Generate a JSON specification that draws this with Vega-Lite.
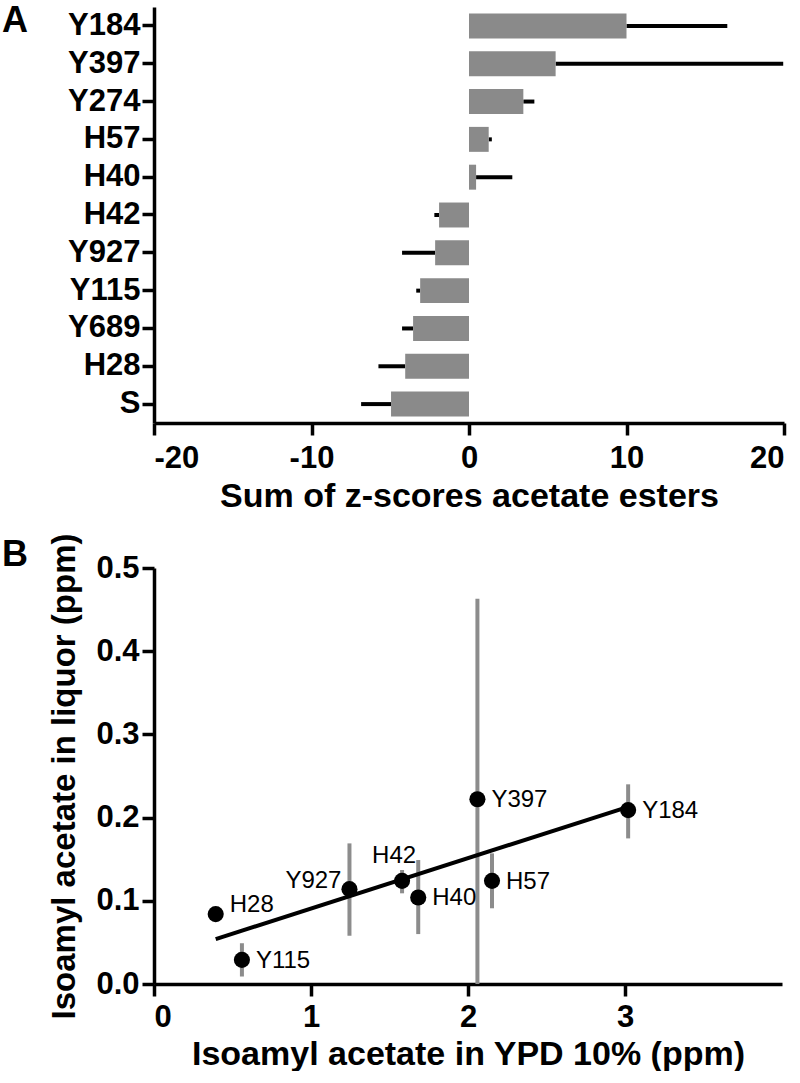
{
  "$schema": "https://vega.github.io/schema/vega-lite/v6.json",
  "background": "white",
  "padding": {"left": 2, "top": 3, "right": 2, "bottom": 0},
  "spacing": 20,
  "config": {
    "font": "Liberation Sans, Arial",
    "view": {"stroke": null},
    "axis": {
      "domainColor": "black", "domainWidth": 3.5, "tickColor": "black", "tickWidth": 3.5, "tickSize": 12,
      "labelColor": "black", "titleColor": "black", "labelFontWeight": "bold", "titleFontWeight": "bold",
      "labelFontSize": 31, "titleFontSize": 34, "grid": false,
      "labelFont": "Liberation Sans, Arial",
      "titleFont": "Liberation Sans, Arial"
    },
    "title": {"fontSize": 36, "fontWeight": "bold", "anchor": "start", "frame": "group", "color": "black", "font": "Liberation Sans, Arial"}
  },
  "vconcat": [
    {
      "width": 630,
      "height": 416,
      "title": {"text": "A", "dx": -152, "dy": 33, "offset": 0},
      "data": {"values": [
        {"strain": "Y184", "value": 10.0, "error_end": 16.4},
        {"strain": "Y397", "value": 5.5, "error_end": 19.95},
        {"strain": "Y274", "value": 3.45, "error_end": 4.15},
        {"strain": "H57", "value": 1.25, "error_end": 1.45},
        {"strain": "H40", "value": 0.45, "error_end": 2.75},
        {"strain": "H42", "value": -1.9, "error_end": -2.2},
        {"strain": "Y927", "value": -2.15, "error_end": -4.25},
        {"strain": "Y115", "value": -3.1, "error_end": -3.35},
        {"strain": "Y689", "value": -3.55, "error_end": -4.25},
        {"strain": "H28", "value": -4.05, "error_end": -5.75},
        {"strain": "S", "value": -4.95, "error_end": -6.85}
      ]},
      "encoding": {
        "y": {"field": "strain", "type": "nominal", "sort": null,
              "scale": {"paddingInner": 0.34, "paddingOuter": 0.17},
              "axis": {"title": null, "labelPadding": 2}}
      },
      "layer": [
        {
          "mark": {"type": "rule", "strokeWidth": 4, "color": "black"},
          "encoding": {
            "x": {"field": "value", "type": "quantitative"},
            "x2": {"field": "error_end"}
          }
        },
        {
          "mark": {"type": "bar", "color": "#8a8a8a"},
          "encoding": {
            "x": {"field": "value", "type": "quantitative",
                  "scale": {"domain": [-20, 20]},
                  "axis": {"values": [-20, -10, 0, 10, 20], "labelExpr": "'' + datum.value", "title": "Sum of z-scores acetate esters", "labelPadding": 8, "titlePadding": 6}}
          }
        },
        {
          "mark": {"type": "rule", "strokeWidth": 3.5, "color": "black"},
          "encoding": {"x": {"datum": 0, "type": "quantitative"}}
        }
      ]
    },
    {
      "width": 628,
      "height": 416,
      "title": {"text": "B", "dx": -152, "dy": 41, "offset": 0},
      "data": {"values": [
        {"strain": "H28", "x": 0.393, "y": 0.084, "lo": 0.080, "hi": 0.088},
        {"strain": "Y115", "x": 0.56, "y": 0.029, "lo": 0.009, "hi": 0.049},
        {"strain": "Y927", "x": 1.245, "y": 0.114, "lo": 0.058, "hi": 0.169},
        {"strain": "H42", "x": 1.58, "y": 0.124, "lo": 0.109, "hi": 0.137},
        {"strain": "H40", "x": 1.683, "y": 0.104, "lo": 0.060, "hi": 0.149},
        {"strain": "Y397", "x": 2.06, "y": 0.222, "lo": 0.0, "hi": 0.463},
        {"strain": "H57", "x": 2.153, "y": 0.124, "lo": 0.091, "hi": 0.157},
        {"strain": "Y184", "x": 3.02, "y": 0.209, "lo": 0.175, "hi": 0.240}
      ]},
      "layer": [
        {
          "mark": {"type": "rule", "strokeWidth": 4, "color": "#8c8c8c"},
          "encoding": {
            "x": {"field": "x", "type": "quantitative",
                  "scale": {"domain": [0, 4], "nice": false},
                  "axis": {"values": [0, 1, 2, 3], "labelExpr": "'' + datum.value", "title": "Isoamyl acetate in YPD 10% (ppm)", "labelPadding": 6, "titlePadding": 5}},
            "y": {"field": "lo", "type": "quantitative",
                  "scale": {"domain": [0, 0.5], "nice": false},
                  "axis": {"values": [0, 0.1, 0.2, 0.3, 0.4, 0.5], "format": ".1f", "title": "Isoamyl acetate in liquor (ppm)", "titleFontSize": 33, "labelPadding": 3, "titlePadding": 14}},
            "y2": {"field": "hi"}
          }
        },
        {
          "transform": [{"regression": "y", "on": "x"}],
          "mark": {"type": "line", "strokeWidth": 4, "color": "black"},
          "encoding": {
            "x": {"field": "x", "type": "quantitative"},
            "y": {"field": "y", "type": "quantitative"}
          }
        },
        {
          "mark": {"type": "circle", "size": 260, "color": "black", "opacity": 1},
          "encoding": {
            "x": {"field": "x", "type": "quantitative"},
            "y": {"field": "y", "type": "quantitative"}
          }
        },
        {
          "transform": [{"filter": {"field": "strain", "oneOf": ["Y115", "H40", "H57", "Y397", "Y184"]}}],
          "mark": {"type": "text", "align": "left", "baseline": "middle", "dx": 14, "dy": 1, "fontSize": 24, "color": "black"},
          "encoding": {
            "x": {"field": "x", "type": "quantitative"},
            "y": {"field": "y", "type": "quantitative"},
            "text": {"field": "strain"}
          }
        },
        {
          "transform": [{"filter": {"field": "strain", "equal": "H28"}}],
          "mark": {"type": "text", "align": "left", "baseline": "middle", "dx": 14, "dy": -9, "fontSize": 24, "color": "black"},
          "encoding": {
            "x": {"field": "x", "type": "quantitative"},
            "y": {"field": "y", "type": "quantitative"},
            "text": {"field": "strain"}
          }
        },
        {
          "transform": [{"filter": {"field": "strain", "equal": "Y927"}}],
          "mark": {"type": "text", "align": "right", "baseline": "middle", "dx": -8, "dy": -8, "fontSize": 24, "color": "black"},
          "encoding": {
            "x": {"field": "x", "type": "quantitative"},
            "y": {"field": "y", "type": "quantitative"},
            "text": {"field": "strain"}
          }
        },
        {
          "transform": [{"filter": {"field": "strain", "equal": "H42"}}],
          "mark": {"type": "text", "align": "center", "baseline": "middle", "dx": -8, "dy": -25, "fontSize": 24, "color": "black"},
          "encoding": {
            "x": {"field": "x", "type": "quantitative"},
            "y": {"field": "y", "type": "quantitative"},
            "text": {"field": "strain"}
          }
        }
      ]
    }
  ]
}
